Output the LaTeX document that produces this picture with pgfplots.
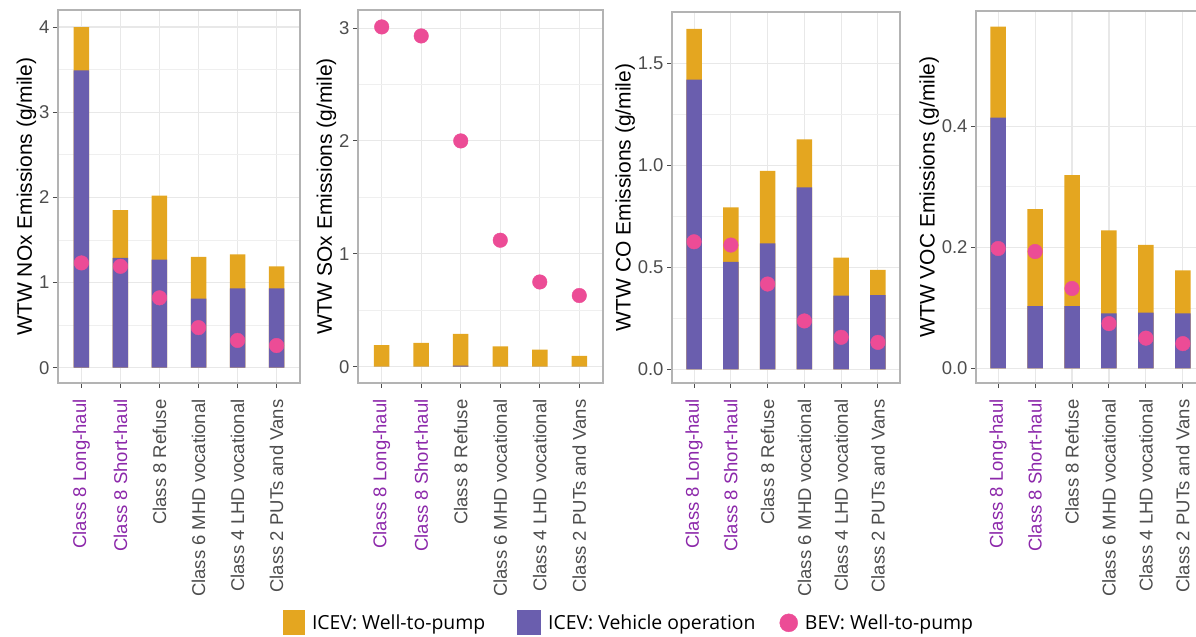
\documentclass[border=0pt]{standalone}
\usepackage{fontspec}
\setmainfont{Liberation Sans}
\newfontfamily\legfont{Open Sans}
\usepackage{pgfplots}
\pgfplotsset{compat=1.18}
\usepackage{pgfplotstable}

\definecolor{wtp}{RGB}{228,166,32}
\definecolor{vop}{RGB}{106,94,174}
\definecolor{bev}{RGB}{236,76,150}
\definecolor{lblpurple}{RGB}{140,40,170}
\definecolor{framec}{RGB}{179,179,179}
\definecolor{gridc}{RGB}{232,232,232}
\definecolor{ticktext}{RGB}{77,77,77}

\pgfplotstableread{
x veh total bev
0 3.49 4.00 1.23
1 1.29 1.85 1.19
2 1.27 2.02 0.82
3 0.81 1.30 0.47
4 0.93 1.33 0.32
5 0.93 1.19 0.26
}\nox
\pgfplotstableread{
x veh total bev
0 0.000 0.190 3.01
1 0.000 0.210 2.93
2 0.010 0.290 2.00
3 0.000 0.180 1.12
4 0.000 0.150 0.75
5 0.000 0.095 0.63
}\sox
\pgfplotstableread{
x veh total bev
0 1.420 1.668 0.625
1 0.527 0.794 0.609
2 0.617 0.972 0.418
3 0.892 1.127 0.237
4 0.361 0.547 0.157
5 0.364 0.487 0.132
}\co
\pgfplotstableread{
x veh total bev
0 0.414 0.564 0.198
1 0.103 0.263 0.193
2 0.103 0.319 0.132
3 0.091 0.228 0.074
4 0.092 0.204 0.050
5 0.091 0.162 0.041
}\voc

\pgfplotsset{
  panel/.style={
    scale only axis, anchor=south west,
    xmin=-0.6, xmax=5.6,
    xtick={0,...,5},
    xticklabels={\textcolor{lblpurple}{Class 8 Long-haul},\textcolor{lblpurple}{Class 8 Short-haul},Class 8 Refuse,Class 6 MHD vocational,Class 4 LHD vocational,Class 2 PUTs and Vans},
    x tick label style={rotate=90, anchor=east, font=\fontsize{18.5bp}{20bp}\selectfont, text=ticktext},
    xticklabel shift=8bp,
    y tick label style={font=\fontsize{18.5bp}{20bp}\selectfont, text=ticktext},
    /pgf/number format/assume math mode=true,
    axis line style={framec, line width=1.4bp},
    tick style={color=ticktext, line width=1bp},
    tick align=outside, major tick length=5bp, minor tick length=0bp,
    tick pos=left,
    xmajorgrids, ymajorgrids, major grid style={gridc, line width=1.1bp},
    minor y tick num=1, yminorgrids, minor grid style={gridc!70, line width=0.6bp},
    ylabel style={font=\fontsize{21bp}{23bp}\selectfont, text=black},
    ylabel shift=-4bp,
  },
  wtpbar/.style={ybar, bar width=15.5bp, bar shift=0pt, fill=wtp, draw=none},
  vopbar/.style={ybar, bar width=15.5bp, bar shift=0pt, fill=vop, draw=none},
  bevdot/.style={only marks, mark=*, mark size=7.3bp, color=bev, mark options={fill=bev, draw=none}},
}

\begin{document}
\begin{tikzpicture}
\useasboundingbox (0,0) rectangle (1196bp,637bp);
\clip (0,0) rectangle (1196bp,637bp);

% NOx
\begin{axis}[panel, at={(58bp,254bp)}, width=242bp, height=373bp,
  ymin=-0.18, ymax=4.2, ytick={0,1,2,3,4},
  ylabel={WTW NOx Emissions (g/mile)}]
\addplot[wtpbar] table[x=x,y=total]{\nox};
\addplot[vopbar] table[x=x,y=veh]{\nox};
\addplot[bevdot] table[x=x,y=bev]{\nox};
\end{axis}

% SOx
\begin{axis}[panel, at={(358bp,254bp)}, width=245bp, height=373bp,
  ymin=-0.145, ymax=3.16, ytick={0,1,2,3},
  ylabel={WTW SOx Emissions (g/mile)},
  legend columns=3,
  legend style={at={(axis description cs:-0.306,-0.643)}, anchor=west, draw=none, fill=none,
    inner sep=0pt, outer sep=0pt,
    font=\legfont\fontsize{19.4bp}{21bp}\selectfont,
    /tikz/every odd column/.append style={column sep=5bp},
    /tikz/column 2/.append style={column sep=30bp},
    /tikz/column 4/.append style={column sep=22bp}}]
\addplot[wtpbar, legend image code/.code={\fill[wtp] (0bp,-12.5bp) rectangle (22bp,12.5bp);}] table[x=x,y=total]{\sox};
\addlegendentry{ICEV: Well-to-pump}
\addplot[vopbar, legend image code/.code={\fill[vop] (0bp,-12.5bp) rectangle (24bp,12.5bp);}] table[x=x,y=veh]{\sox};
\addlegendentry{ICEV: Vehicle operation}
\addplot[bevdot, legend image code/.code={\fill[bev] (9bp,0bp) circle (9bp);}] table[x=x,y=bev]{\sox};
\addlegendentry{BEV: Well-to-pump}
\end{axis}

% CO
\begin{axis}[panel, at={(672bp,254bp)}, width=228bp, height=371bp,
  ymin=-0.067, ymax=1.751, ytick={0,0.5,1,1.5},
  yticklabel style={/pgf/number format/.cd, fixed, fixed zerofill, precision=1},
  ylabel={WTW CO Emissions (g/mile)}]
\addplot[wtpbar] table[x=x,y=total]{\co};
\addplot[vopbar] table[x=x,y=veh]{\co};
\addplot[bevdot] table[x=x,y=bev]{\co};
\end{axis}

% VOC
\begin{axis}[panel, at={(976bp,254bp)}, width=229bp, height=372bp,
  ymin=-0.024, ymax=0.590, ytick={0,0.2,0.4},
  yticklabel style={/pgf/number format/.cd, fixed, fixed zerofill, precision=1},
  ylabel={WTW VOC Emissions (g/mile)}]
\addplot[wtpbar] table[x=x,y=total]{\voc};
\addplot[vopbar] table[x=x,y=veh]{\voc};
\addplot[bevdot] table[x=x,y=bev]{\voc};
\end{axis}
\end{tikzpicture}
\end{document}
